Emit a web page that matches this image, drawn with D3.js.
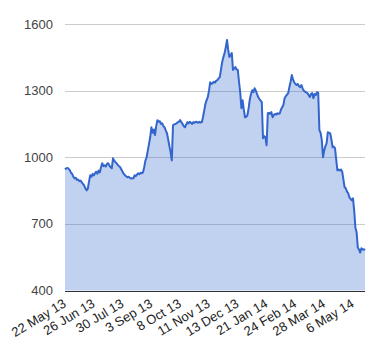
<!DOCTYPE html>
<html><head><meta charset="utf-8">
<script src="https://cdn.jsdelivr.net/npm/d3@7"></script>
<style>body{margin:0;background:#fff}svg{display:block}text{font-family:"Liberation Sans",Arial,sans-serif}</style>
</head><body>
<script>
const values = [
945,950,952,948,942,930,925,912,905,908,898,900,892,895,887,880,872,860,851,858,
890,919,912,925,918,928,935,926,940,932,955,973,960,964,958,970,973,962,955,950,
995,985,978,973,965,960,955,945,935,925,919,914,910,912,908,904,905,905,919,915,
922,928,924,930,928,932,955,985,1000,1030,1060,1090,1135,1110,1125,1100,1140,1167,1160,1162,
1150,1153,1140,1135,1120,1108,1080,1050,1023,986,1144,1148,1150,1153,1158,1160,1167,1158,1150,1140,
1135,1148,1158,1152,1160,1155,1150,1158,1155,1160,1158,1155,1160,1156,1158,1180,1210,1240,1257,1271,
1300,1338,1330,1334,1340,1336,1345,1347,1355,1361,1395,1429,1451,1469,1495,1528,1483,1451,1460,1469,
1393,1400,1406,1395,1393,1340,1293,1221,1257,1215,1180,1182,1189,1220,1260,1285,1302,1293,1311,1300,
1285,1271,1262,1255,1248,1086,1095,1090,1054,1198,1200,1195,1203,1180,1190,1195,1192,1198,1195,1198,
1215,1225,1235,1266,1275,1282,1289,1316,1340,1370,1350,1338,1330,1325,1330,1320,1316,1325,1310,1300,
1295,1292,1289,1280,1271,1285,1289,1266,1285,1280,1293,1290,1122,1110,1077,1000,1030,1050,1063,1113,
1110,1108,1080,1045,1048,1041,990,941,945,941,945,935,900,865,860,845,838,820,812,806,
815,760,684,662,594,585,571,590,585,586,581
];
const tickLabels = ["22 May 13","26 Jun 13","30 Jul 13","3 Sep 13","8 Oct 13","11 Nov 13","13 Dec 13","21 Jan 14","24 Feb 14","28 Mar 14","6 May 14"];
const tickEvery = 24;
const yTicks = [400,700,1000,1300,1600];

const W=380,H=360;
const svg=d3.select("body").append("svg").attr("width",W).attr("height",H);
const x=d3.scaleLinear().domain([0,values.length-1]).range([65,365]);
const y=d3.scaleLinear().domain([400,1600]).range([290.5,24]);

// gridlines
svg.append("g").selectAll("line").data(yTicks.slice(1)).join("line")
  .attr("x1",65).attr("x2",365).attr("y1",d=>Math.round(y(d))+0.5).attr("y2",d=>Math.round(y(d))+0.5)
  .attr("stroke","#cccccc").attr("stroke-width",1);

const area=d3.area().x((d,i)=>x(i)).y0(y(400)).y1(d=>y(d));
const line=d3.line().x((d,i)=>x(i)).y(d=>y(d));
svg.append("path").datum(values).attr("d",area).attr("fill","#3366cc").attr("fill-opacity",0.3);
svg.append("path").datum(values).attr("d",line).attr("fill","none").attr("stroke","#3366cc").attr("stroke-width",2).attr("stroke-linejoin","round");

// baseline
svg.append("line").attr("x1",65).attr("x2",365).attr("y1",Math.round(y(400))+0.5).attr("y2",Math.round(y(400))+0.5).attr("stroke","#333").attr("stroke-width",1);

// y labels
svg.append("g").selectAll("text").data(yTicks).join("text")
  .attr("x",53).attr("y",d=>y(d)).attr("dy","0.35em").attr("text-anchor","end")
  .attr("font-size",13).attr("fill","#444").text(d=>d);

// x labels
svg.append("g").selectAll("text").data(tickLabels).join("text")
  .attr("transform",(d,i)=>`translate(${x(i*tickEvery)+2},${306}) rotate(-31)`)
  .attr("text-anchor","end").attr("font-size",13).attr("fill","#222").text(d=>d);
</script>
</body></html>
